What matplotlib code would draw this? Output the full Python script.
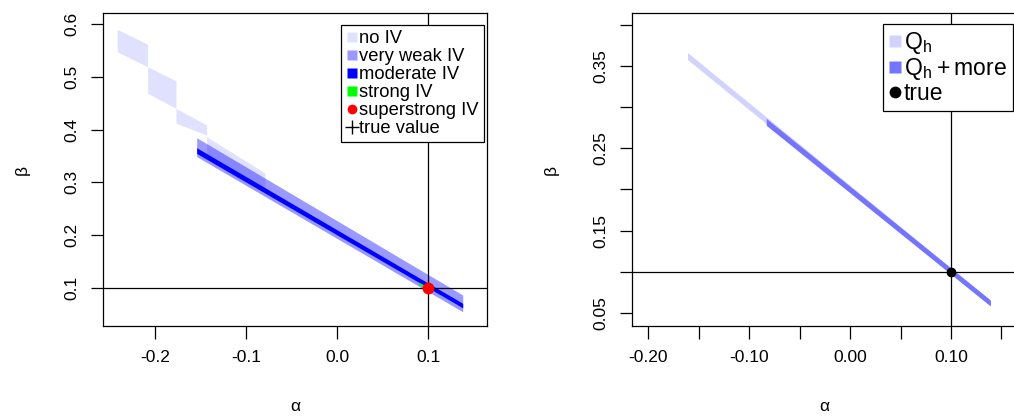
import numpy as np
import matplotlib.pyplot as plt
from matplotlib.lines import Line2D

plt.rcParams['font.family'] = ['Liberation Sans', 'DejaVu Sans']
plt.rcParams['axes.unicode_minus'] = False

# ---- left panel: identified sets for (alpha, beta) ----
# "no IV" set, drawn as four strips (alpha start/end, upper/lower beta at each end)
noiv_a0 = [-0.2414, -0.2080, -0.1769, -0.1432]
noiv_a1 = [-0.2080, -0.1769, -0.1432, -0.0791]
noiv_top0 = [0.590, 0.519, 0.4403, 0.3866]
noiv_top1 = [0.5616, 0.4926, 0.4087, 0.3178]
noiv_bot0 = [0.5475, 0.4688, 0.412, 0.349]
noiv_bot1 = [0.519, 0.4403, 0.390, 0.282]

weak_alpha = [-0.1542, 0.1381]
weak_upper = [0.3847, 0.0867]
weak_lower = [0.349, 0.055]

mod_alpha = [-0.1542, 0.1381]
mod_upper = [0.3657, 0.071]
mod_lower = [0.355, 0.0625]

strong_alpha = [0.0912, 0.1]
strong_beta = [0.107, 0.1]

true_alpha = 0.1
true_beta = 0.1

# ---- right panel ----
qh_alpha = [-0.161, 0.139]
qh_upper = [0.3665, 0.0656]
qh_lower = [0.358, 0.0584]

more_alpha = [-0.083, 0.139]
more_upper = [0.2864, 0.0656]
more_lower = [0.278, 0.0584]

c_noiv = (0, 0, 1, 0.12)
c_weak = (0, 0, 1, 0.40)
c_mod = (0, 0, 1, 1)
c_qh = '#D2D2FF'
c_more = '#7474FF'

W, H = 1014, 416
fig = plt.figure(figsize=(W / 100, H / 100), dpi=100)
ax1 = fig.add_axes([103 / W, 90 / H, 384 / W, 313 / H])
ax2 = fig.add_axes([632 / W, 90 / H, 384 / W, 313 / H])

fs = 12.5

# left panel
for i in range(len(noiv_a0)):
    ax1.fill_between([noiv_a0[i], noiv_a1[i]], [noiv_bot0[i], noiv_bot1[i]],
                     [noiv_top0[i], noiv_top1[i]], color=c_noiv, lw=0)
ax1.fill_between(weak_alpha, weak_lower, weak_upper, color=c_weak, lw=0)
ax1.fill_between(mod_alpha, mod_lower, mod_upper, color=c_mod, lw=0)
ax1.plot(strong_alpha, strong_beta, color='#00FF00', lw=1.5)
ax1.plot([true_alpha], [true_beta], 'o', color='red', ms=7.5, zorder=5)
ax1.axvline(true_alpha, color='black', lw=0.9, zorder=4)
ax1.axhline(true_beta, color='black', lw=0.9, zorder=4)

ax1.set_xlim(-0.2571, 0.1648)
ax1.set_ylim(0.028, 0.621)
ax1.set_xticks([-0.2, -0.1, 0.0, 0.1])
ax1.set_xticklabels(['-0.2', '-0.1', '0.0', '0.1'])
ax1.set_yticks([0.1, 0.2, 0.3, 0.4, 0.5, 0.6])
ax1.set_yticklabels(['0.1', '0.2', '0.3', '0.4', '0.5', '0.6'])

h1 = [Line2D([], [], ls='', marker='s', ms=7, color=c_noiv, mec='none'),
      Line2D([], [], ls='', marker='s', ms=7, color=c_weak, mec='none'),
      Line2D([], [], ls='', marker='s', ms=7, color=c_mod, mec='none'),
      Line2D([], [], ls='', marker='s', ms=7, color='#00FF00', mec='none'),
      Line2D([], [], ls='', marker='o', ms=7, color='red', mec='none'),
      Line2D([], [], ls='', marker='+', ms=10, color='black', mew=1)]
l1 = ['no IV', 'very weak IV', 'moderate IV', 'strong IV', 'superstrong IV', 'true value']
leg1 = ax1.legend(h1, l1, loc='upper right', bbox_to_anchor=(0.993, 0.962),
                  fontsize=13.2, frameon=True, fancybox=False, framealpha=1,
                  edgecolor='black', borderpad=0.3, labelspacing=0.05,
                  handlelength=0.6, handletextpad=0.12, borderaxespad=0)
leg1.get_frame().set_linewidth(0.9)

# right panel
ax2.fill_between(qh_alpha, qh_lower, qh_upper, color=c_qh, lw=0)
ax2.fill_between(more_alpha, more_lower, more_upper, color=c_more, lw=0)
ax2.axvline(true_alpha, color='black', lw=0.9, zorder=4)
ax2.axhline(true_beta, color='black', lw=0.9, zorder=4)
ax2.plot([true_alpha], [true_beta], 'o', color='black', ms=6, zorder=5)

ax2.set_xlim(-0.216, 0.1644)
ax2.set_ylim(0.034, 0.4146)
ax2.set_xticks([-0.20, -0.15, -0.10, -0.05, 0.00, 0.05, 0.10, 0.15])
ax2.set_xticklabels(['-0.20', '', '-0.10', '', '0.00', '', '0.10', ''])
ax2.set_yticks([0.05, 0.10, 0.15, 0.20, 0.25, 0.30, 0.35, 0.40])
ax2.set_yticklabels(['0.05', '', '0.15', '', '0.25', '', '0.35', ''])

h2 = [Line2D([], [], ls='', marker='s', ms=8.5, color=c_qh, mec='none'),
      Line2D([], [], ls='', marker='s', ms=8.5, color=c_more, mec='none'),
      Line2D([], [], ls='', marker='o', ms=8.5, color='black', mec='none')]
l2 = [r'$\mathregular{Q_h}$', r'$\mathregular{Q_h + more}$', 'true']
leg2 = ax2.legend(h2, l2, loc='upper right', bbox_to_anchor=(0.991, 0.964),
                  fontsize=16.5, frameon=True, fancybox=False, framealpha=1,
                  edgecolor='black', borderpad=0.25, labelspacing=0.0,
                  handlelength=0.55, handletextpad=0.1, borderaxespad=0)
leg2.get_frame().set_linewidth(0.9)

for ax in (ax1, ax2):
    for s in ax.spines.values():
        s.set_linewidth(0.9)
    ax.tick_params(direction='out', length=9, width=0.9, labelsize=fs, pad=8)
    for t in ax.get_yticklabels():
        t.set_rotation(90)
        t.set_va('center')
    ax.set_xlabel('α', fontsize=fs, labelpad=25)
    ax.set_ylabel('β', fontsize=fs, labelpad=25)

fig.savefig('out.png', dpi=100)
